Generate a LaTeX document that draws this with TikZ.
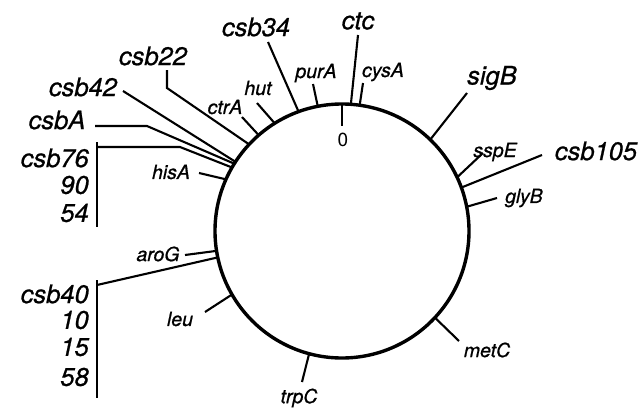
\documentclass[tikz,border=0pt]{standalone}
\usepackage{fontspec}
\setmainfont{TeX Gyre Heros}[ItalicFeatures={FakeBold=0.8}]
\newfontfamily\zerofont{TeX Gyre Heros}
\begin{document}
\begin{tikzpicture}[x=1pt,y=-1pt,
  big/.style={font=\fontsize{25.5}{27}\selectfont\itshape, inner sep=0pt},
  small/.style={font=\fontsize{19.5}{21}\selectfont\itshape, inner sep=0pt},
  tick/.style={line width=2.1pt},
  chrom/.style={circle, draw, line width=3.4pt, minimum size=254pt, inner sep=0pt, outer sep=0pt}]
\useasboundingbox (0,0) rectangle (642,407);
\node[chrom] (C) at (342,231) {};
% labels
\node[big] (ctc) at (358,21) {ctc};
\node[small] (cysA) at (383,72) {cysA};
\node[small] (purA) at (316,73) {purA};
\node[big] (csb34) at (256,27) {csb34};
\node[small] (hut) at (258,88) {hut};
\node[small] (ctrA) at (225,107) {ctrA};
\node[big] (csb22) at (153,56) {csb22};
\node[big] (csb42) at (83,87) {csb42};
\node[big] (csbA) at (57,120) {csbA};
\node[big, anchor=east] (csb76) at (89,158) {csb76};
\node[big, anchor=east] (n90) at (89,185) {90};
\node[big, anchor=east] (n54) at (89,213) {54};
\node[small] (hisA) at (171,172) {hisA};
\node[small] (aroG) at (158,254) {aroG};
\node[big, anchor=east] (csb40) at (89,294) {csb40};
\node[big, anchor=east] (n10) at (89,320) {10};
\node[big, anchor=east] (n15) at (89,347) {15};
\node[big, anchor=east] (n58) at (89,377) {58};
\node[small] (leu) at (180,319) {leu};
\node[small] (trpC) at (299,398) {trpC};
\node[small] (metC) at (487,350) {metC};
\node[small] (glyB) at (524,198) {glyB};
\node[big] (csb105) at (596,151) {csb105};
\node[small] (sspE) at (495,152) {sspE};
\node[big] (sigB) at (492,78) {sigB};
\node[font=\fontsize{19}{21}\selectfont\zerofont, inner sep=0pt] (zero) at (343,140) {0};
% free ends
\coordinate (e0) at (342,126);
\coordinate (ectc) at (358,35);
\coordinate (ecys) at (363,83);
\coordinate (epur) at (313,84);
\coordinate (e34) at (268,42);
\coordinate (ehut) at (257,103);
\coordinate (ectr) at (242,117);
\coordinate (e22a) at (167,70);
\coordinate (e22b) at (167,88);
\coordinate (e42) at (123,91);
\coordinate (eAa) at (95,126);
\coordinate (eAb) at (147,126);
\coordinate (e76a) at (97,147);
\coordinate (e76b) at (180,147);
\coordinate (b76t) at (97,142);
\coordinate (b76b) at (97,227);
\coordinate (ehis) at (199,173);
\coordinate (earo) at (185,255);
\coordinate (e40) at (97,285);
\coordinate (b40t) at (97,280);
\coordinate (b40b) at (97,398);
\coordinate (eleu) at (205,312);
\coordinate (etrp) at (302,382);
\coordinate (emet) at (459,341);
\coordinate (egly) at (497,198);
\coordinate (e105) at (542,155);
\coordinate (essp) at (483,153);
\coordinate (esig) at (467,93);
% connectors
\draw[tick] (C.90) -- (e0);
\draw[tick] (C.86.5) -- (ectc);
\draw[tick] (C.82.4) -- (ecys);
\draw[tick] (C.101.6) -- (epur);
\draw[tick] (C.110.4) -- (e34);
\draw[tick] (C.122.6) -- (ehut);
\draw[tick] (C.131) -- (ectr);
\draw[tick] (C.137.2) -- (e22b) -- (e22a);
\draw[tick] (C.147) -- (e42);
\draw[tick] (C.148.5) -- (eAb) -- (eAa);
\draw[tick] (C.150) -- (e76b) -- (e76a);
\draw[tick] (b76t) -- (b76b);
\draw[tick] (C.156.4) -- (ehis);
\draw[tick] (C.189.5) -- (earo);
\draw[tick] (C.192.2) -- (e40);
\draw[tick] (b40t) -- (b40b);
\draw[tick] (C.210) -- (eleu);
\draw[tick] (C.255) -- (etrp);
\draw[tick] (C.317.5) -- (emet);
\draw[tick] (C.11.6) -- (egly);
\draw[tick] (C.20.7) -- (e105);
\draw[tick] (C.25.6) -- (essp);
\draw[tick] (C.46.9) -- (esig);
\end{tikzpicture}
\end{document}
